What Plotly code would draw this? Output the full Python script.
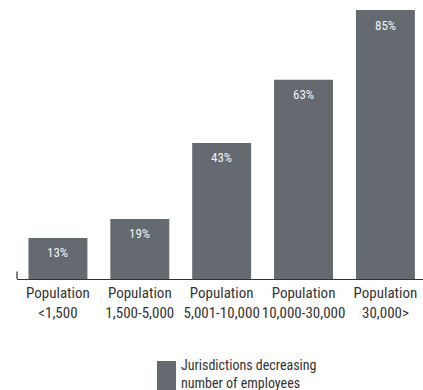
import plotly.graph_objects as go

# Share of jurisdictions that reduced staff, by population band
categories = ["<1,500", "1,500-5,000", "5,001-10,000", "10,000-30,000", "30,000>"]
pct_decreasing = [13, 19, 43, 63, 85]
series_name = ["Jurisdictions decreasing", "number of employees"]

BAR = "#646a70"
FONT = "Roboto Condensed, DejaVu Sans Condensed, sans-serif"

idx = list(range(len(categories)))
tick_text = ["Population<br>" + c for c in categories]

fig = go.Figure()
fig.add_trace(go.Bar(
    x=idx, y=pct_decreasing, width=0.72,
    marker=dict(color=BAR, line=dict(width=0)),
    showlegend=False, hoverinfo="skip",
))

# value labels sitting just inside the top of each bar
for i, v in zip(idx, pct_decreasing):
    fig.add_annotation(x=i, y=v, xref="x", yref="y", text=f"{v}%",
                       showarrow=False, yanchor="middle", yshift=-15,
                       font=dict(family=FONT, size=13, color="#f2f2f2"))

# short vertical stub at the left end of the baseline
fig.add_shape(type="line", xref="paper", yref="y", x0=0, x1=0, y0=0, y1=2.4,
              line=dict(color="#333333", width=1.2))

# legend: swatch plus two-line caption
fig.add_shape(type="rect", xref="paper", yref="paper",
              x0=(157 - 17) / 406, x1=(176 - 17) / 406,
              y0=(279 - 392) / 279, y1=(279 - 361) / 279,
              fillcolor=BAR, line=dict(width=0))
fig.add_annotation(xref="paper", yref="paper",
                   x=(179 - 17) / 406, y=(279 - 374) / 279,
                   xanchor="left", yanchor="middle", align="left",
                   showarrow=False, text="<br>".join(series_name),
                   font=dict(family=FONT, size=14, color="#333333"))

fig.update_layout(
    width=423, height=390,
    margin=dict(l=17, r=0, t=0, b=111),
    paper_bgcolor="white", plot_bgcolor="white",
    font=dict(family=FONT, color="#333333"),
    xaxis=dict(range=[-0.5, 4.459], tickmode="array", tickvals=idx,
               ticktext=tick_text, tickangle=0, showline=True,
               linecolor="#333333", linewidth=1.2, ticks="",
               showgrid=False, zeroline=False,
               tickfont=dict(family=FONT, size=15, color="#333333"),
               fixedrange=True),
    yaxis=dict(range=[0, 88.2], visible=False, showgrid=False,
               zeroline=False, fixedrange=True),
)

fig.write_html("out.html")
